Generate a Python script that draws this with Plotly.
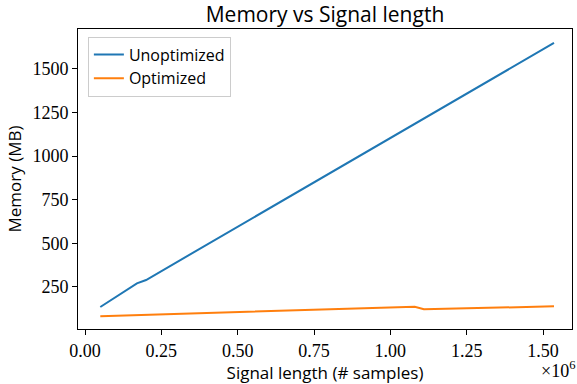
import plotly.graph_objects as go

signal_length = [0.05e6, 0.17e6, 0.2e6, 1.08e6, 1.11e6, 1.536e6]
unoptimized = [135, 271, 290, 1185, 1215, 1649]
optimized = [82, 88, 90, 137, 122, 139]

x_ticks = [0, 0.25e6, 0.5e6, 0.75e6, 1.0e6, 1.25e6, 1.5e6]
x_tick_labels = ["0.00", "0.25", "0.50", "0.75", "1.00", "1.25", "1.50"]
y_ticks = [250, 500, 750, 1000, 1250, 1500]

serif = "Liberation Serif, DejaVu Serif, serif"
sans = "Open Sans, Lato, DejaVu Sans, sans-serif"

fig = go.Figure()
fig.add_trace(go.Scatter(x=signal_length, y=optimized, mode="lines", name="Optimized",
                         line=dict(color="#ff7f0e", width=2), showlegend=False, legendgroup="o"))
fig.add_trace(go.Scatter(x=signal_length, y=unoptimized, mode="lines", name="Unoptimized",
                         line=dict(color="#1f77b4", width=2), legendrank=1))
fig.add_trace(go.Scatter(x=[None], y=[None], mode="lines", name="Optimized",
                         line=dict(color="#ff7f0e", width=2), legendrank=2, legendgroup="o"))

axis_common = dict(showgrid=False, zeroline=False, showline=True, linecolor="black", linewidth=1,
                   mirror=True, ticks="outside", ticklen=5, tickwidth=1, tickcolor="black",
                   tickfont=dict(family=serif, size=18, color="black"))

fig.update_layout(
    width=577, height=384,
    margin=dict(l=78, r=5, t=29, b=55),
    paper_bgcolor="white", plot_bgcolor="white",
    title=dict(text="Memory vs Signal length", x=0.5, xanchor="center", y=0.963, yanchor="middle",
               xref="paper", yref="container", font=dict(family=sans, size=21, color="black")),
    xaxis=dict(range=[-0.023e6, 1.595e6], tickvals=x_ticks, ticktext=x_tick_labels,
               title=dict(text="Signal length (# samples)", font=dict(family=sans, size=17, color="black"), standoff=3),
               automargin=False, **axis_common),
    yaxis=dict(range=[9, 1729], tickvals=y_ticks,
               title=dict(text="Memory (MB)", font=dict(family=sans, size=17, color="black"), standoff=6),
               automargin=False, **axis_common),
    legend=dict(x=0.02, y=0.975, xanchor="left", yanchor="top", bgcolor="rgba(255,255,255,0.8)",
                bordercolor="#cccccc", borderwidth=1, font=dict(family=sans, size=16, color="black"),
                tracegroupgap=0),
    showlegend=True,
)
fig.add_annotation(text="×10<sup>6</sup>", xref="paper", yref="paper", x=1.01, y=-0.135,
                   xanchor="right", yanchor="middle", showarrow=False,
                   font=dict(family=serif, size=18, color="black"))

fig.write_html("out.html", config={"displayModeBar": False},
               post_script="document.body.style.margin='0';")
